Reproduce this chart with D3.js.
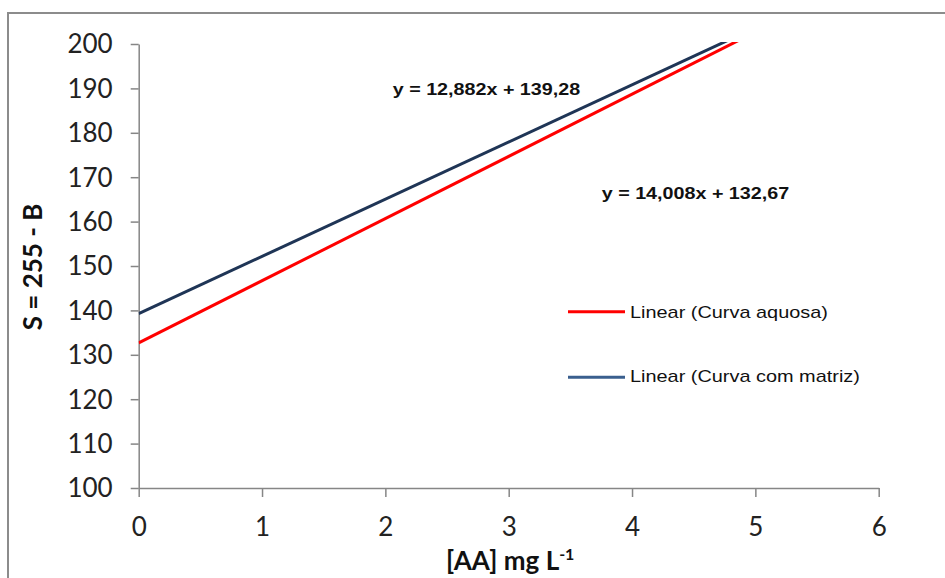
<!DOCTYPE html>
<html>
<head>
<meta charset="utf-8">
<script src="https://cdn.jsdelivr.net/npm/d3@7"></script>
<style>
  html, body { margin: 0; padding: 0; background: #fff; }
  svg { display: block; }
</style>
</head>
<body>
<svg id="chart" width="945" height="578"></svg>
<script>
// Calibration trend lines: S = slope * [AA] + intercept
const seriesNames = ["Linear (Curva aquosa)", "Linear (Curva com matriz)"];
const slopes = [14.008, 12.882];
const intercepts = [132.67, 139.28];
const equationLabels = ["y = 14,008x + 132,67", "y = 12,882x + 139,28"];
const lineColors = ["#ff0000", "#1f3556"];
const legendColors = ["#ff0000", "#3a5f8e"];

const xTicks = [0, 1, 2, 3, 4, 5, 6];
const yTicks = [100, 110, 120, 130, 140, 150, 160, 170, 180, 190, 200];

const svg = d3.select("#chart");

// outer chart frame
svg.append("rect")
  .attr("x", 8).attr("y", 13)
  .attr("width", 960).attr("height", 600)
  .attr("fill", "#fff")
  .attr("stroke", "#8c8c8c")
  .attr("stroke-width", 2);

const plot = { left: 138.7, right: 878.7, top: 44, bottom: 488 };

const x = d3.scaleLinear().domain([0, 6]).range([plot.left, plot.right]);
const y = d3.scaleLinear().domain([100, 200]).range([plot.bottom, plot.top]);

const tickFont = "Lato, 'Open Sans', sans-serif";

// y axis
const yAxis = svg.append("g")
  .attr("transform", `translate(${plot.left},0)`)
  .call(d3.axisLeft(y).tickValues(yTicks).tickFormat(d3.format("d"))
    .tickSize(8).tickPadding(18).tickSizeOuter(0));
yAxis.select(".domain").attr("stroke", "#868686").attr("stroke-width", 1.5);
yAxis.selectAll(".tick line").attr("stroke", "#868686").attr("stroke-width", 1.5);
yAxis.selectAll(".tick text")
  .attr("font-family", tickFont).attr("font-size", 26).attr("fill", "#222")
  .attr("dy", "0.34em");

// x axis
const xAxis = svg.append("g")
  .attr("transform", `translate(0,${plot.bottom})`)
  .call(d3.axisBottom(x).tickValues(xTicks).tickFormat(d3.format("d"))
    .tickSize(9).tickPadding(26).tickSizeOuter(0));
xAxis.select(".domain").attr("stroke", "#868686").attr("stroke-width", 1.5);
xAxis.selectAll(".tick line").attr("stroke", "#868686").attr("stroke-width", 1.5);
xAxis.selectAll(".tick text")
  .attr("font-family", tickFont).attr("font-size", 26).attr("fill", "#222")
  .attr("dy", "0.5em");

// clip lines to the plot area
svg.append("clipPath").attr("id", "plotClip")
  .append("rect")
  .attr("x", plot.left).attr("y", plot.top - 2)
  .attr("width", plot.right - plot.left).attr("height", plot.bottom - plot.top + 2);

const line = d3.line().x(d => x(d[0])).y(d => y(d[1]));
const linesG = svg.append("g").attr("clip-path", "url(#plotClip)");
[1, 0].forEach(i => {
  const pts = xTicks.filter(t => t === 0 || t === 6).map(t => [t, slopes[i] * t + intercepts[i]]);
  linesG.append("path")
    .attr("d", line(pts))
    .attr("fill", "none")
    .attr("stroke", lineColors[i])
    .attr("stroke-width", 3);
});

// regression equations (horizontally widened Arial-style text)
const eqPos = [[601.7, 199], [392.7, 95]];
equationLabels.forEach((t, i) => {
  svg.append("text")
    .attr("transform", `translate(${eqPos[i][0]},${eqPos[i][1]}) scale(1.16,1)`)
    .attr("font-family", "'Liberation Sans', Arial, sans-serif")
    .attr("font-weight", "bold")
    .attr("font-size", 17)
    .attr("fill", "#111")
    .text(t);
});

// legend
const legendRows = [{ ly: 311.7, ty: 318 }, { ly: 377.3, ty: 382 }];
seriesNames.forEach((name, i) => {
  svg.append("line")
    .attr("x1", 568).attr("x2", 625)
    .attr("y1", legendRows[i].ly).attr("y2", legendRows[i].ly)
    .attr("stroke", legendColors[i]).attr("stroke-width", 3);
  svg.append("text")
    .attr("transform", `translate(630,${legendRows[i].ty}) scale(1.17,1)`)
    .attr("font-family", "'Liberation Sans', Arial, sans-serif")
    .attr("font-size", 17)
    .attr("fill", "#111")
    .text(name);
});

// axis titles
svg.append("text")
  .attr("transform", "translate(42,267) rotate(-90)")
  .attr("text-anchor", "middle")
  .attr("font-family", tickFont)
  .attr("font-weight", "bold")
  .attr("font-size", 26)
  .attr("fill", "#111")
  .text("S = 255 - B");

const xTitle = svg.append("text")
  .attr("x", 446).attr("y", 570)
  .attr("font-family", tickFont)
  .attr("font-weight", "bold")
  .attr("font-size", 26)
  .attr("fill", "#111");
xTitle.append("tspan").text("[AA] mg L");
xTitle.append("tspan").attr("dy", -10).attr("font-size", 16).text("-1");
</script>
</body>
</html>
